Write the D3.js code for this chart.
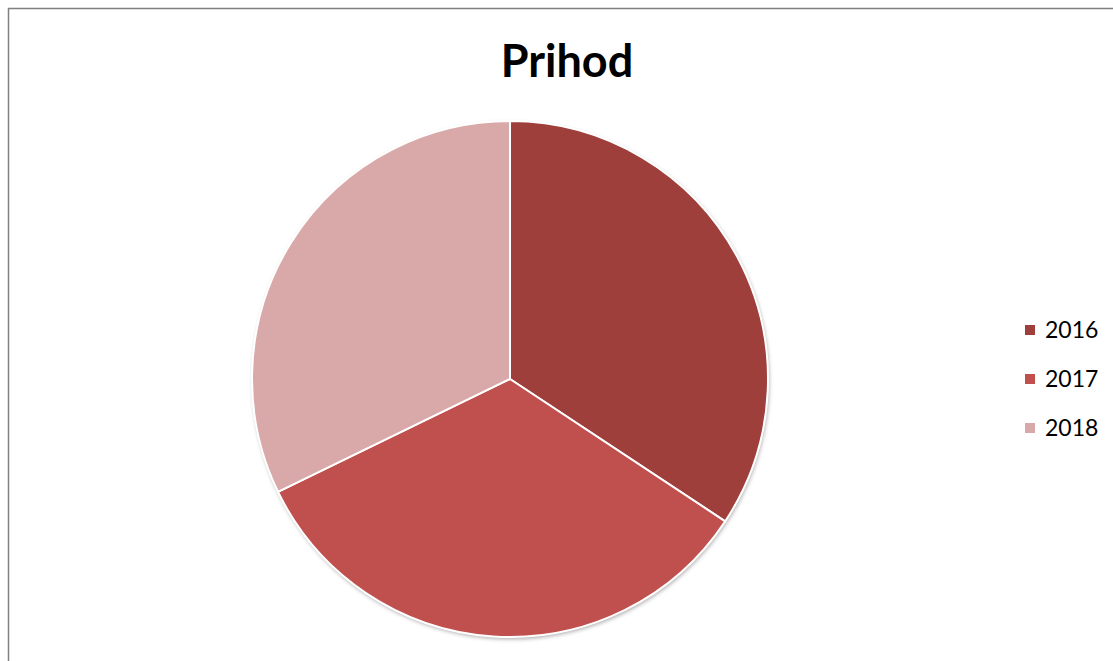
<!DOCTYPE html>
<html>
<head>
<meta charset="utf-8">
<script src="https://cdn.jsdelivr.net/npm/d3@7"></script>
<style>
    body { margin: 0; background: #ffffff; }
    svg { display: block; }
</style>
</head>
<body>
<svg id="chart" width="1113" height="661"></svg>
<script>
// chart data
var categories = ["2016", "2017", "2018"];
var values = [34.3, 33.5, 32.2];
var colors = ["#9e3f3c", "#c0504e", "#d9a9a9"];
var title = "Prihod";

var svg = d3.select("#chart");
var width = 1113, height = 661;

// shadow filter for the pie
var defs = svg.append("defs");
var filter = defs.append("filter").attr("id", "shadow")
    .attr("x", "-10%").attr("y", "-10%").attr("width", "120%").attr("height", "120%");
filter.append("feDropShadow")
    .attr("dx", 1).attr("dy", 2).attr("stdDeviation", 2)
    .attr("flood-color", "#000").attr("flood-opacity", 0.35);

// outer frame (right/bottom are clipped off in the reference)
svg.append("rect")
    .attr("x", 8.5).attr("y", 8.5)
    .attr("width", width + 20).attr("height", height + 20)
    .attr("fill", "none")
    .attr("stroke", "#808080")
    .attr("stroke-width", 1.5);

svg.append("text")
    .attr("x", 567).attr("y", 77)
    .attr("text-anchor", "middle")
    .attr("font-family", "Lato, 'Open Sans', sans-serif")
    .attr("font-weight", "bold")
    .attr("font-size", 45)
    .attr("fill", "#000")
    .text(title);

var cx = 510, cy = 379, radius = 258;

var data = categories.map(function (c, i) {
    return {name: c, value: values[i], color: colors[i]};
});

var pie = d3.pie().sort(null).value(function (d) { return d.value; });
var arc = d3.arc().innerRadius(0).outerRadius(radius);

var g = svg.append("g").attr("transform", "translate(" + cx + "," + cy + ")");

g.append("circle").attr("r", radius).attr("fill", "#fff").attr("filter", "url(#shadow)");

g.selectAll("path.slice")
    .data(pie(data))
    .enter().append("path")
    .attr("class", "slice")
    .attr("d", arc)
    .attr("fill", function (d) { return d.data.color; })
    .attr("stroke", "#ffffff")
    .attr("stroke-width", 2)
    .attr("stroke-linejoin", "round");

// legend
var legendY = d3.scalePoint().domain(categories).range([330, 428]);
var legend = svg.append("g");
var items = legend.selectAll("g.item")
    .data(data)
    .enter().append("g")
    .attr("class", "item")
    .attr("transform", function (d) { return "translate(1025," + legendY(d.name) + ")"; });

items.append("rect")
    .attr("x", 0).attr("y", -5)
    .attr("width", 10).attr("height", 10)
    .attr("fill", function (d) { return d.color; });

items.append("text")
    .attr("x", 20).attr("y", 0)
    .attr("dy", "0.35em")
    .attr("font-family", "Lato, 'Open Sans', sans-serif")
    .attr("font-size", 23)
    .attr("fill", "#000")
    .text(function (d) { return d.name; });
</script>
</body>
</html>
